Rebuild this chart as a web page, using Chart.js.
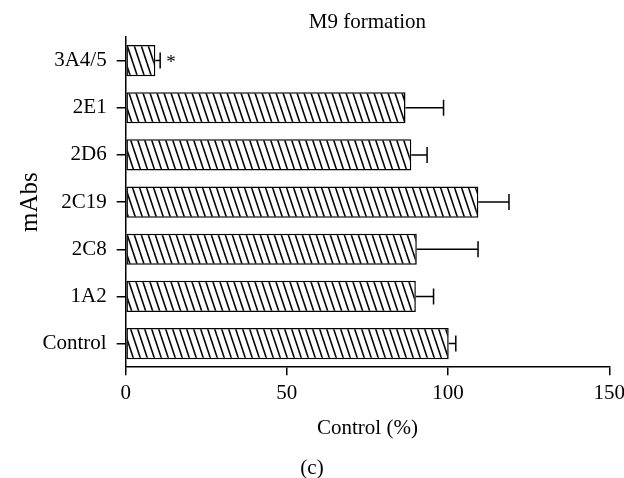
<!DOCTYPE html>
<html>
<head>
<meta charset="utf-8">
<script src="https://cdn.jsdelivr.net/npm/chart.js@4"></script>
<style>
  html, body { margin: 0; padding: 0; background: #fff; }
  #wrap { width: 624px; height: 478px; }
</style>
</head>
<body>
<div id="wrap"><canvas id="myChart" width="624" height="478"></canvas></div>
<script>
// values (% of control), top to bottom
const labels = ['3A4/5', '2E1', '2D6', '2C19', '2C8', '1A2', 'Control'];
const means  = [9.2, 86.8, 88.6, 109.4, 90.3, 90.0, 100.2];
const errors = [1.5, 11.8, 4.9, 9.5, 19.0, 5.5, 2.2];
const marks  = ['*', '', '', '', '', '', ''];
const xTicks = [0, 50, 100, 150];

const FONT = 'Liberation Serif';
const FS = 21;

// "\\\\" hatch fill
function hatch() {
  const c = document.createElement('canvas');
  c.width = 7; c.height = 21;
  const g = c.getContext('2d');
  g.fillStyle = '#fff';
  g.fillRect(0, 0, 7, 21);
  g.strokeStyle = '#000';
  g.lineWidth = 1.6;
  for (const x0 of [-7, 0, 7]) {
    g.beginPath();
    g.moveTo(x0, 0);
    g.lineTo(x0 + 7, 21);
    g.stroke();
  }
  return g.createPattern(c, 'repeat');
}

const errorBars = {
  id: 'errorBars',
  afterDatasetsDraw(chart) {
    const ctx = chart.ctx;
    const xs = chart.scales.x;
    const meta = chart.getDatasetMeta(0);
    ctx.save();
    ctx.strokeStyle = '#000';
    ctx.fillStyle = '#000';
    ctx.lineWidth = 1.5;
    meta.data.forEach((bar, i) => {
      const x0 = xs.getPixelForValue(means[i]);
      const x1 = xs.getPixelForValue(means[i] + errors[i]);
      const y = bar.y;
      ctx.beginPath();
      ctx.moveTo(x0, y);
      ctx.lineTo(x1, y);
      ctx.moveTo(x1, y - 8);
      ctx.lineTo(x1, y + 8);
      ctx.stroke();
      if (marks[i]) {
        ctx.font = '19px "' + FONT + '"';
        ctx.textBaseline = 'middle';
        ctx.fillText(marks[i], x1 + 6, y + 2);
      }
    });
    ctx.restore();
  }
};

const ctx = document.getElementById('myChart').getContext('2d');
new Chart(ctx, {
  type: 'bar',
  data: {
    labels: labels,
    datasets: [{
      data: means,
      backgroundColor: hatch(),
      borderColor: '#000',
      borderWidth: 1.5,
      borderSkipped: false,
      barPercentage: 0.66,
      categoryPercentage: 1
    }]
  },
  options: {
    indexAxis: 'y',
    responsive: false,
    animation: false,
    layout: { padding: { left: 0, right: 0, top: 0, bottom: -3 } },
    scales: {
      x: {
        min: 0,
        max: 150,
        afterBuildTicks: s => { s.ticks = xTicks.map(v => ({ value: v })); },
        border: { display: true, color: '#000', width: 1.5 },
        grid: { drawOnChartArea: false, drawTicks: true, tickLength: 8, color: '#000', lineWidth: 1.5 },
        ticks: { color: '#000', padding: -1, font: { family: FONT, size: FS, lineHeight: 1.81 } },
        title: { display: true, text: 'Control (%)', color: '#000', font: { family: FONT, size: FS }, padding: { top: 4.4, bottom: 0 } }
      },
      y: {
        border: { display: true, color: '#000', width: 1.5 },
        grid: { offset: false, drawOnChartArea: false, drawTicks: true, tickLength: 9, color: '#000', lineWidth: 1.5 },
        ticks: { color: '#000', padding: 10, font: { family: FONT, size: FS } },
        title: { display: true, text: 'mAbs', color: '#000', font: { family: FONT, size: 25 }, padding: { top: 15, bottom: -12.5 } }
      }
    },
    plugins: {
      legend: { display: false },
      tooltip: { enabled: false },
      title: {
        display: true,
        text: 'M9 formation',
        fullSize: false,
        color: '#000',
        font: { family: FONT, size: FS, weight: 'normal' },
        padding: { top: 9.4, bottom: 2.4 }
      },
      subtitle: {
        display: true,
        position: 'bottom',
        text: '(c)',
        color: '#000',
        font: { family: FONT, size: FS, weight: 'normal' },
        padding: { top: 15, bottom: 0 }
      }
    }
  },
  plugins: [errorBars]
});
</script>
</body>
</html>
